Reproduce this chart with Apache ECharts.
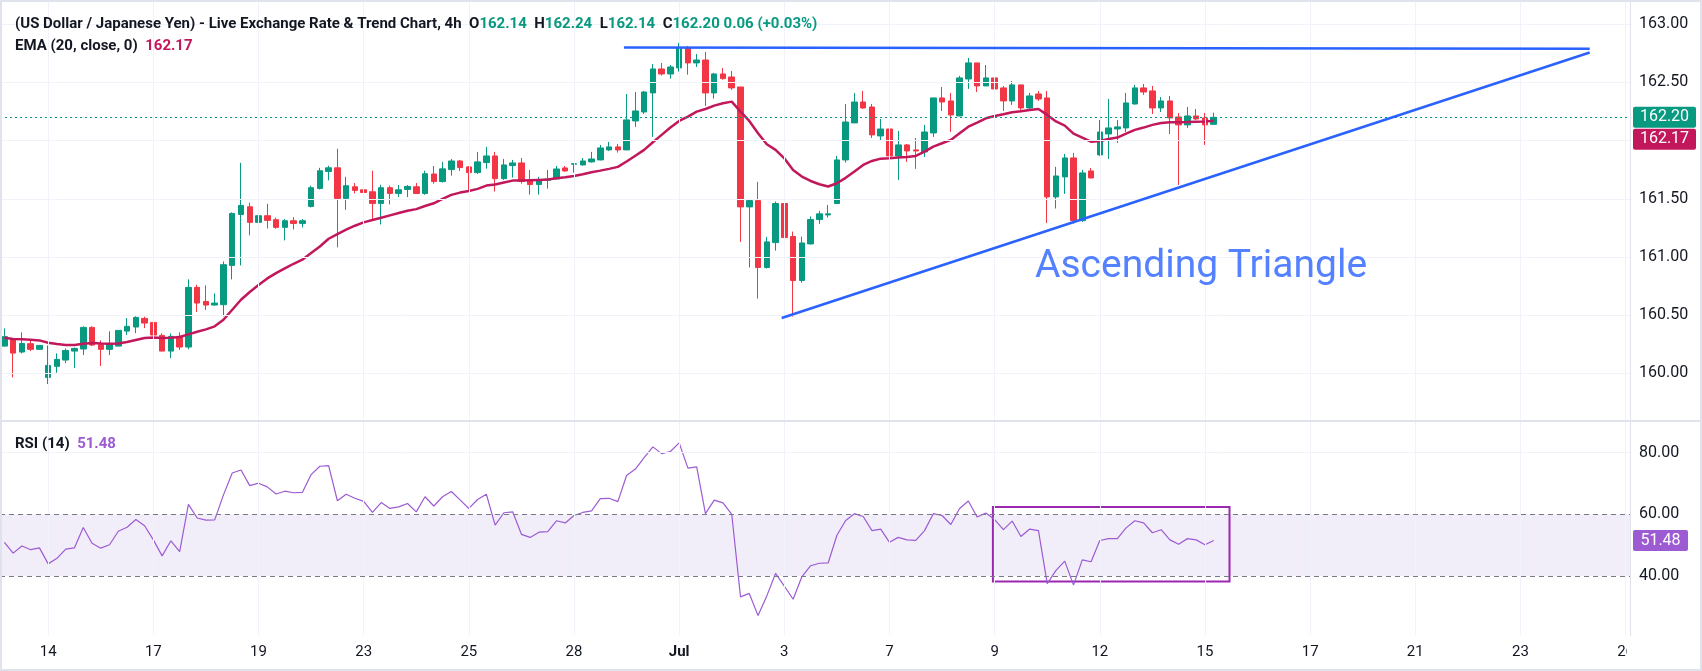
<!DOCTYPE html>
<html>
<head>
<meta charset="utf-8">
<title>USD/JPY 4h</title>
<script src="https://cdn.jsdelivr.net/npm/echarts@6/dist/echarts.min.js"></script>
<style>
html, body { margin: 0; padding: 0; background: #fff; }
#main { width: 1702px; height: 671px; }
</style>
</head>
<body>
<div id="main"></div>
<script>
// 4h candles, slot index = bar number (future slots are empty)
var slotCount = 186;

var opens = [160.233,160.291,160.182,160.254,160.205,159.964,160.059,160.113,160.19,160.208,
160.394,160.245,160.205,160.233,160.362,160.397,160.471,160.437,160.325,160.19,
160.317,160.225,160.738,160.617,160.586,160.589,160.927,161.365,161.431,161.297,
161.354,161.32,161.254,161.311,161.288,161.434,161.589,161.735,161.766,161.503,
161.603,161.577,161.56,161.46,161.595,161.546,161.58,161.603,161.546,161.713,
161.648,161.751,161.825,161.774,161.725,161.811,161.868,161.673,161.785,161.808,
161.656,161.622,161.659,161.67,161.765,161.797,161.791,161.817,161.834,161.92,
161.946,161.92,162.169,162.246,162.41,162.616,162.573,162.625,162.797,162.668,
162.693,162.41,162.573,162.547,162.461,161.43,161.484,160.909,161.123,161.459,
161.175,160.797,161.112,161.321,161.361,161.459,161.834,162.152,162.332,162.289,
162.04,162.1,161.868,161.963,161.92,161.903,162.066,162.367,162.341,162.212,
162.53,162.668,162.47,162.539,162.453,162.341,162.479,162.281,162.401,162.367,
161.516,161.688,161.851,161.312,161.739,161.877,162.057,162.1,162.109,162.315,
162.453,162.427,162.281,162.341,162.203,162.135,162.212,162.195,162.14];

var highs = [160.385,160.30,160.351,160.285,160.24,160.239,160.17,160.213,160.22,160.403,
160.403,160.282,160.36,160.37,160.474,160.489,160.486,160.44,160.342,160.342,
160.351,160.807,160.761,160.755,160.686,160.961,161.383,161.809,161.466,161.36,
161.457,161.337,161.325,161.342,161.325,161.612,161.766,161.784,161.93,161.689,
161.635,161.635,161.741,161.62,161.612,161.618,161.618,161.635,161.741,161.782,
161.817,161.842,161.834,161.782,161.903,161.946,161.903,161.842,161.834,161.851,
161.748,161.688,161.748,161.782,161.782,161.805,161.851,161.903,161.963,161.989,
161.971,162.401,162.418,162.427,162.659,162.668,162.65,162.84,162.814,162.745,
162.762,162.582,162.625,162.599,162.461,161.499,161.645,161.172,161.476,161.524,
161.218,161.175,161.347,161.396,161.447,161.868,162.315,162.41,162.427,162.315,
162.186,162.178,162.083,161.971,162.023,162.135,162.367,162.461,162.41,162.556,
162.711,162.668,162.65,162.573,162.47,162.513,162.479,162.41,162.427,162.427,
161.774,161.885,161.894,161.748,161.765,162.178,162.358,162.178,162.41,162.479,
162.487,162.47,162.375,162.384,162.238,162.289,162.272,162.238,162.24];

var lows = [160.23,159.964,160.17,160.19,160.20,159.907,160.004,160.087,160.044,160.156,
160.233,160.062,160.156,160.23,160.328,160.345,160.388,160.32,160.19,160.13,
160.2,160.205,160.526,160.543,160.58,160.489,160.807,160.927,161.185,160.996,
161.245,161.242,161.142,161.236,161.254,161.425,161.58,161.658,161.082,161.405,
161.546,161.529,161.325,161.279,161.451,161.514,161.514,161.54,161.534,161.63,
161.639,161.699,161.739,161.57,161.713,161.759,161.562,161.662,161.682,161.63,
161.536,161.536,161.587,161.668,161.731,161.725,161.785,161.811,161.83,161.911,
161.897,161.92,162.118,162.229,162.032,162.559,162.533,162.593,162.567,162.633,
162.298,162.361,162.524,162.436,161.129,160.909,160.642,160.9,161.054,160.926,
160.487,160.779,161.106,161.284,161.338,161.459,161.811,162.152,162.272,162.023,
162.006,161.696,161.662,161.817,161.757,161.86,162.032,162.255,162.074,162.21,
162.444,162.418,162.47,162.367,162.255,162.307,162.255,162.255,162.341,161.292,
161.416,161.542,161.287,161.30,161.675,161.87,161.842,161.98,162.074,162.31,
162.393,162.229,162.246,162.057,161.619,162.109,162.178,161.963,162.14];

var closes = [160.314,160.173,160.256,160.205,160.239,160.067,160.119,160.196,160.213,160.394,
160.242,160.205,160.251,160.368,160.403,160.48,160.431,160.328,160.19,160.317,
160.225,160.738,160.603,160.586,160.603,160.933,161.374,161.443,161.297,161.354,
161.314,161.254,161.311,161.288,161.311,161.595,161.741,161.766,161.503,161.612,
161.572,161.554,161.46,161.595,161.546,161.577,161.606,161.546,161.715,161.648,
161.757,161.825,161.768,161.725,161.817,161.868,161.673,161.791,161.808,161.648,
161.622,161.659,161.67,161.756,161.739,161.802,161.825,161.842,161.937,161.946,
161.92,162.178,162.255,162.418,162.616,162.573,162.633,162.797,162.668,162.693,
162.41,162.573,162.533,162.453,161.43,161.484,160.909,161.129,161.459,161.166,
160.797,161.12,161.321,161.37,161.37,161.834,162.16,162.332,162.281,162.049,
162.1,161.868,161.963,161.911,161.911,162.074,162.367,162.332,162.221,162.539,
162.668,162.47,162.539,162.444,162.341,162.479,162.281,162.384,162.358,161.516,
161.696,161.851,161.312,161.722,161.679,162.074,162.109,162.118,162.324,162.453,
162.418,162.281,162.341,162.195,162.135,162.212,162.186,162.135,162.20];

var ema20 = [160.305,160.294,160.291,160.288,160.282,160.262,160.251,160.242,160.242,160.254,
160.259,160.256,160.254,160.256,160.268,160.285,160.302,160.308,160.302,160.305,
160.311,160.334,160.357,160.377,160.403,160.46,160.546,160.632,160.698,160.759,
160.815,160.861,160.901,160.941,160.976,161.033,161.09,161.156,161.196,161.234,
161.268,161.297,161.317,161.337,161.357,161.377,161.397,161.411,161.438,161.461,
161.499,161.533,161.553,161.567,161.585,161.613,161.622,161.639,161.656,161.656,
161.659,161.662,161.665,161.676,161.685,161.696,161.711,161.728,161.742,161.757,
161.774,161.82,161.87,161.92,161.986,162.049,162.112,162.169,162.206,162.249,
162.272,162.301,162.321,162.335,162.249,162.169,162.063,161.969,161.92,161.848,
161.748,161.691,161.653,161.625,161.605,161.633,161.68,161.734,161.791,161.825,
161.845,161.848,161.854,161.86,161.868,161.905,161.948,161.977,162.006,162.063,
162.12,162.155,162.192,162.212,162.226,162.244,162.252,162.264,162.272,162.221,
162.165,162.129,162.06,162.026,161.991,161.997,162.014,162.026,162.06,162.092,
162.112,162.135,162.152,162.158,162.158,162.16,162.163,162.165,162.17];

var rsi14 = [50.9,47.4,49.7,48.5,49.1,43.9,45.7,48.7,49.1,55.7,
50.6,49.0,50.1,54.5,55.8,58.3,56.3,51.7,46.5,51.4,
47.9,63.2,58.8,58.1,58.2,66.3,73.4,74.4,69.3,70.1,
68.9,66.6,67.5,67.0,67.1,72.9,75.6,75.8,64.4,66.5,
65.2,64.2,60.6,63.8,61.9,62.4,63.5,60.8,65.7,62.7,
65.7,67.4,64.7,61.9,64.8,66.5,56.5,60.5,60.8,53.5,
52.5,54.2,54.4,57.9,57.2,59.6,60.6,61.1,65.1,65.2,
64.1,72.6,74.7,78.4,81.9,79.7,80.4,83.2,75.0,75.4,
60.2,64.6,63.7,60.0,33.2,34.3,27.1,33.5,40.8,36.7,
32.4,39.7,43.3,44.1,44.2,53.2,58.0,60.2,59.3,54.7,
55.2,50.9,52.5,51.7,51.5,54.7,60.2,59.6,56.7,61.9,
64.3,59.1,60.4,58.3,55.0,57.8,52.8,55.2,54.7,37.5,
41.8,44.8,37.0,45.2,44.6,51.5,52.1,52.1,55.6,57.9,
57.2,54.0,55.0,51.7,50.3,52.1,51.7,50.1,51.48];

var timeTickSlots = [5, 17, 29, 41, 53, 65, 77, 89, 101, 113, 125, 137, 149, 161, 173, 185];
var timeTickNames = ['14', '17', '19', '23', '25', '28', 'Jul', '3', '7', '9', '12', '15', '17', '21', '23', '26'];
var priceTicks = [160, 160.5, 161, 161.5, 162, 162.5, 163];
var rsiTicks = [40, 60, 80];

// drawn trend lines: [slot, price]
var resistanceLine = [[70.7, 162.80], [180.9, 162.79]];
var supportLine = [[88.7, 160.475], [180.9, 162.758]];
var patternLabelAt = [117.6, 160.91];
var rsiBox = [[112.8, 62.4], [139.8, 38.2]];

var FONT = 'Roboto, "Noto Sans", sans-serif';
var UP = '#089981', DOWN = '#F23645', EMA_C = '#C2185B', RSI_C = '#9C5BD2', BLUE = '#2962FF';
var GRID_C = '#F0F3FA', TXT = '#131722';

var myChart = echarts.init(document.getElementById('main'));

var slots = [];
for (var i = 0; i < slotCount; i++) slots.push(String(i));
var candleData = opens.map(function (o, i) { return [o, closes[i], lows[i], highs[i]]; });
var emaData = ema20.map(function (v, i) { return [i, v]; });
var rsiData = rsi14.map(function (v, i) { return [i, v]; });
var last = opens.length - 1;

var option = {
    animation: false,
    backgroundColor: '#ffffff',
    textStyle: { fontFamily: FONT },
    title: [{
        left: 10, top: 12,
        text: '{d|(US Dollar / Japanese Yen) - Live Exchange Rate & Trend Chart, 4h  O}{g|' + opens[last].toFixed(2) +
            '}{d|  H}{g|' + highs[last].toFixed(2) + '}{d|  L}{g|' + lows[last].toFixed(2) +
            '}{d|  C}{g|' + closes[last].toFixed(2) + '}{g| 0.06 (+0.03%)}',
        textStyle: {
            rich: {
                d: { color: TXT, fontSize: 15, fontFamily: FONT },
                g: { color: UP, fontSize: 15, fontFamily: FONT }
            }
        }
    }, {
        left: 10, top: 34,
        text: '{d|EMA (20, close, 0)  }{e|' + ema20[last].toFixed(2) + '}',
        textStyle: {
            rich: {
                d: { color: TXT, fontSize: 15, fontFamily: FONT },
                e: { color: EMA_C, fontSize: 15, fontFamily: FONT }
            }
        }
    }, {
        left: 10, top: 432,
        text: '{d|RSI (14)  }{r|' + rsi14[last].toFixed(2) + '}',
        textStyle: {
            rich: {
                d: { color: TXT, fontSize: 15, fontFamily: FONT },
                r: { color: RSI_C, fontSize: 15, fontFamily: FONT }
            }
        }
    }],
    grid: [
        { left: 0, right: 72, top: 0, height: 421 },
        { left: 0, right: 72, top: 421, height: 214 }
    ],
    xAxis: [
        { type: 'category', gridIndex: 0, data: slots, boundaryGap: true, show: false },
        { type: 'value', gridIndex: 0, min: -0.5, max: slotCount - 0.5, show: false },
        {
            type: 'value', gridIndex: 1, min: -0.5, max: slotCount - 0.5,
            axisLine: { show: false }, axisTick: { show: false }, splitLine: { show: false },
            axisLabel: {
                customValues: timeTickSlots,
                margin: 10,
                fontSize: 15,
                color: TXT,
                formatter: function (v) {
                    var k = timeTickSlots.indexOf(Math.round(v));
                    var name = k >= 0 ? timeTickNames[k] : '';
                    return name === 'Jul' ? '{b|Jul}' : name;
                },
                rich: { b: { fontWeight: 'bold', fontSize: 15, color: TXT } }
            }
        }
    ],
    yAxis: [
        {
            type: 'value', gridIndex: 0, position: 'right', min: 159.589, max: 163.209,
            axisLine: { show: false }, axisTick: { show: false }, splitLine: { show: false },
            axisLabel: {
                customValues: priceTicks, margin: 9, fontSize: 16, color: TXT,
                formatter: function (v) { return v.toFixed(2); }
            }
        },
        {
            type: 'value', gridIndex: 1, position: 'right', min: 20.8, max: 90.3,
            axisLine: { show: false }, axisTick: { show: false }, splitLine: { show: false },
            axisLabel: {
                customValues: rsiTicks, margin: 9, fontSize: 16, color: TXT,
                formatter: function (v) { return v.toFixed(2); }
            }
        }
    ],
    series: [
        // price pane grid + last price line
        {
            type: 'line', xAxisIndex: 1, yAxisIndex: 0, data: [], z: 0, silent: true,
            markLine: {
                silent: true, symbol: 'none', animation: false, label: { show: false },
                lineStyle: { color: GRID_C, width: 1, type: 'solid' },
                data: priceTicks.map(function (v) { return { yAxis: v }; })
                    .concat(timeTickSlots.map(function (v) { return { xAxis: v }; }))
            }
        },
        {
            type: 'line', xAxisIndex: 1, yAxisIndex: 0, data: [], z: 2, silent: true,
            markLine: {
                silent: true, symbol: 'none', animation: false, label: { show: false },
                lineStyle: { color: UP, width: 1, type: [2, 3] },
                data: [{ yAxis: closes[last] }]
            }
        },
        {
            type: 'candlestick', xAxisIndex: 0, yAxisIndex: 0, data: candleData, barWidth: 6, z: 3,
            itemStyle: { color: UP, color0: DOWN, borderColor: UP, borderColor0: DOWN, borderWidth: 1 }
        },
        {
            name: 'EMA', type: 'line', xAxisIndex: 1, yAxisIndex: 0, data: emaData, symbol: 'none', z: 4,
            lineStyle: { color: EMA_C, width: 2.5 }
        },
        {
            type: 'line', xAxisIndex: 1, yAxisIndex: 0, data: resistanceLine, symbol: 'none', z: 5,
            lineStyle: { color: BLUE, width: 2.5 }
        },
        {
            type: 'line', xAxisIndex: 1, yAxisIndex: 0, data: supportLine, symbol: 'none', z: 5,
            lineStyle: { color: BLUE, width: 2.5 }
        },
        {
            type: 'scatter', xAxisIndex: 1, yAxisIndex: 0, data: [patternLabelAt], symbolSize: 0, z: 6,
            label: {
                show: true, position: 'right', distance: 0, formatter: 'Ascending Triangle',
                fontSize: 39, color: BLUE, fontFamily: FONT
            }
        },
        // RSI pane
        {
            type: 'line', xAxisIndex: 2, yAxisIndex: 1, data: [], z: 0, silent: true,
            markArea: {
                silent: true, itemStyle: { color: 'rgba(126,87,194,0.1)' },
                data: [[{ yAxis: 40 }, { yAxis: 60 }]]
            },
            markLine: {
                silent: true, symbol: 'none', animation: false, label: { show: false },
                lineStyle: { color: GRID_C, width: 1, type: 'solid' },
                data: [{ yAxis: 80 }].concat(timeTickSlots.map(function (v) { return { xAxis: v }; }))
            }
        },
        {
            type: 'line', xAxisIndex: 2, yAxisIndex: 1, data: [], z: 1, silent: true,
            markLine: {
                silent: true, symbol: 'none', animation: false, label: { show: false },
                lineStyle: { color: '#787B86', width: 1, type: [5, 4] },
                data: [{ yAxis: 60 }, { yAxis: 40 }]
            }
        },
        {
            name: 'RSI', type: 'line', xAxisIndex: 2, yAxisIndex: 1, data: rsiData, symbol: 'none', z: 4,
            lineStyle: { color: RSI_C, width: 1.2 }
        },
        {
            type: 'line', xAxisIndex: 2, yAxisIndex: 1, data: [], z: 5, silent: true,
            markArea: {
                silent: true,
                itemStyle: { color: 'rgba(0,0,0,0)', borderColor: '#9C27B0', borderWidth: 2 },
                data: [[{ xAxis: rsiBox[0][0], yAxis: rsiBox[0][1] }, { xAxis: rsiBox[1][0], yAxis: rsiBox[1][1] }]]
            }
        }
    ]
};

myChart.setOption(option);

// price scale tags and pane frames
var axisX = 1630;
var yClose = myChart.convertToPixel({ yAxisIndex: 0 }, closes[last]);
var yEma = Math.max(myChart.convertToPixel({ yAxisIndex: 0 }, ema20[last]), yClose + 22);
var yRsi = myChart.convertToPixel({ yAxisIndex: 1 }, rsi14[last]);

function tag(y, txt, bg, w) {
    return [
        { type: 'rect', z: 110, shape: { x: axisX + 3, y: y - 10.5, width: w, height: 21, r: 2 }, style: { fill: bg } },
        {
            type: 'text', z: 111, x: axisX + 3 + w / 2, y: y,
            style: { text: txt, fill: '#fff', font: '16px ' + FONT, align: 'center', verticalAlign: 'middle' }
        }
    ];
}

var g = [
    // the time scale is clipped by the price scale column
    { type: 'rect', z: 100, shape: { x: axisX - 3, y: 637, width: 1702 - axisX + 3, height: 34 }, style: { fill: '#fff' } },
    { type: 'line', z: 101, shape: { x1: axisX + 0.5, y1: 0, x2: axisX + 0.5, y2: 636 }, style: { stroke: '#E0E3EB', lineWidth: 1 } },
    { type: 'line', z: 101, shape: { x1: 0, y1: 421, x2: 1702, y2: 421 }, style: { stroke: '#E0E3EB', lineWidth: 2 } },
    { type: 'rect', z: 102, shape: { x: 1, y: 1, width: 1700, height: 669 }, style: { fill: 'none', stroke: '#E0E3EB', lineWidth: 2 } }
];
g = g.concat(tag(yClose, closes[last].toFixed(2), UP, 63));
g = g.concat(tag(yEma, ema20[last].toFixed(2), EMA_C, 63));
g = g.concat(tag(yRsi, rsi14[last].toFixed(2), RSI_C, 55));
myChart.setOption({ graphic: g });

window.addEventListener('resize', function () {
    myChart.resize();
});
</script>
</body>
</html>
